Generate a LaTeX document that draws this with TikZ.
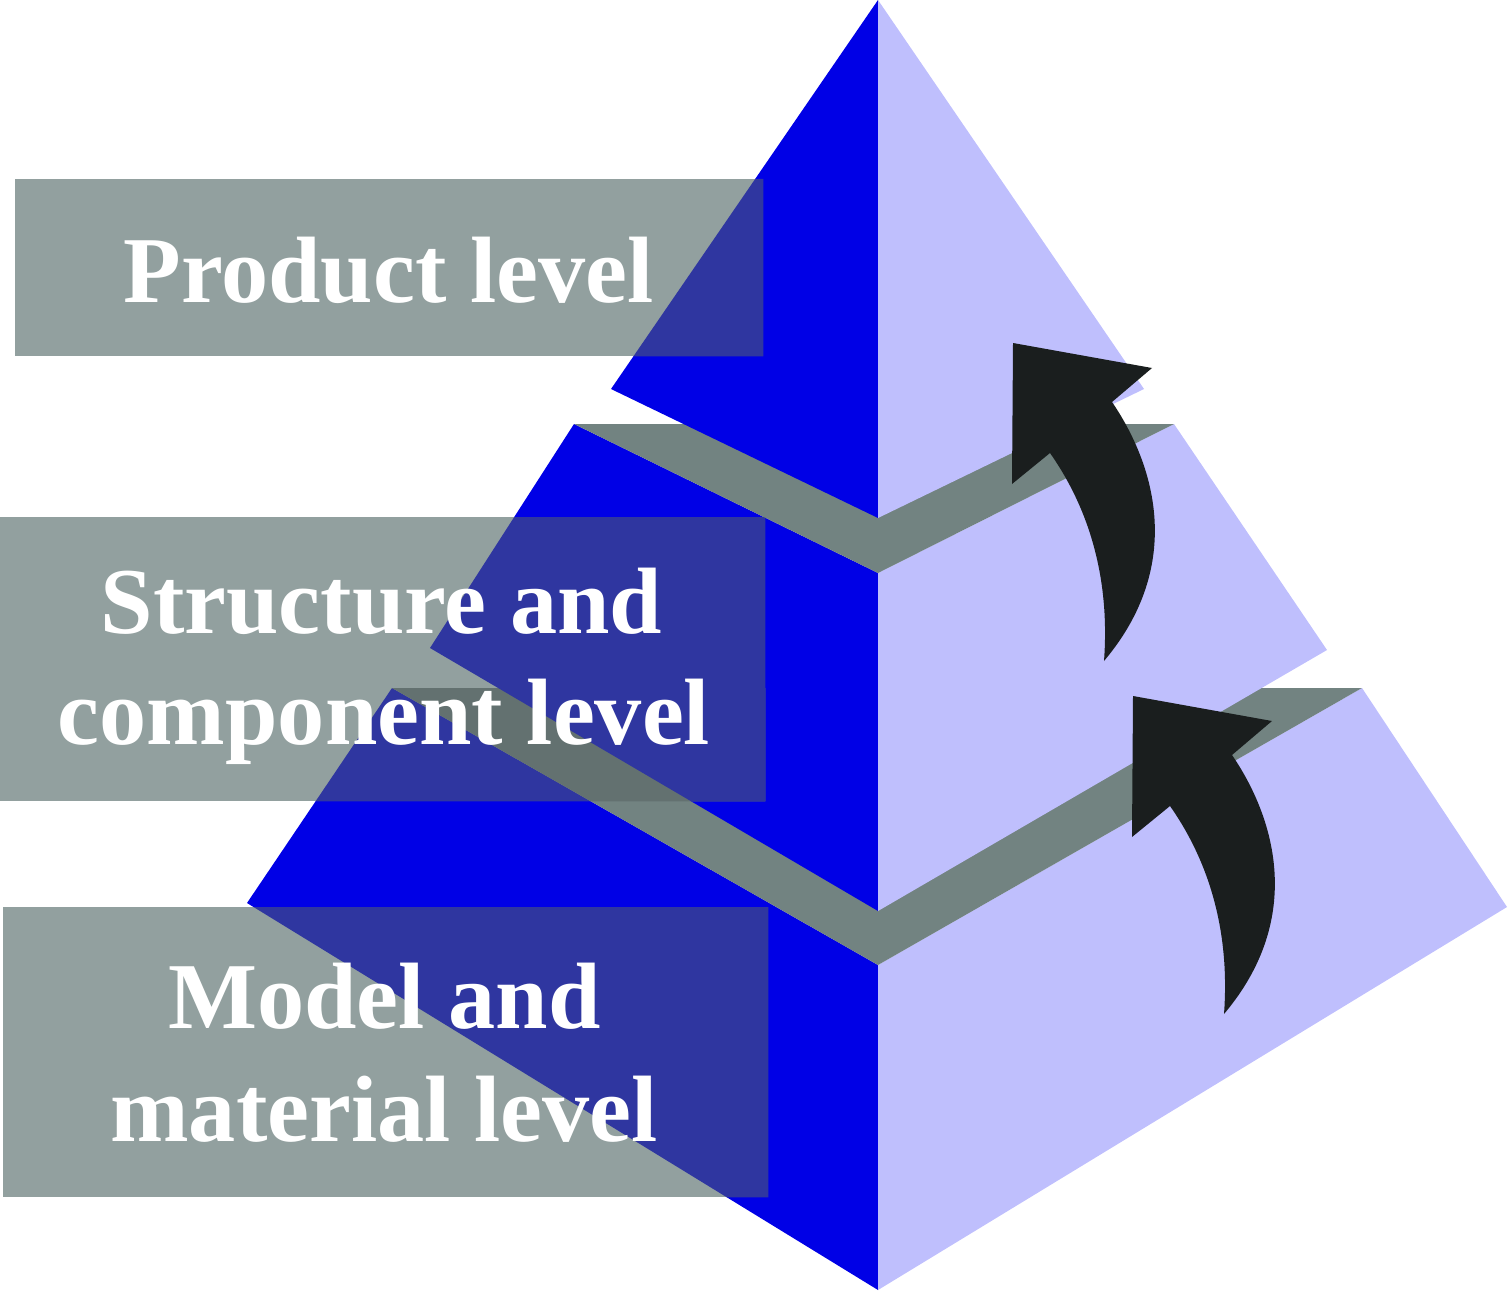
\documentclass[tikz,border=0pt]{standalone}
\usepackage{fontspec}
\setmainfont{Liberation Serif}
\definecolor{faceL}{HTML}{0000E6}
\definecolor{faceR}{HTML}{BFBFFD}
\definecolor{bandc}{HTML}{728381}
\definecolor{boxgray}{HTML}{92A09F}
\definecolor{boxblue}{HTML}{2F36A0}
\definecolor{boxband}{HTML}{637170}
\definecolor{arrowc}{HTML}{1A1E1E}
% #1 left face colour, #2 top-band colour, #3 right face colour
\newcommand{\pyrlayers}[3]{%
  % bottom layer
  \fill[#1] (392,688) -- (247,903) -- (878,1290) -- (878,965) -- cycle;
  \fill[#3] (878,965) -- (1362,688) -- (1507,907) -- (878,1290) -- cycle;
  \fill[#2] (392,688) -- (1362,688) -- (878,965) -- cycle;
  % middle layer
  \fill[#1] (574,424) -- (430,648) -- (878,911) -- (878,573) -- cycle;
  \fill[#3] (878,573) -- (1174,424) -- (1327,650) -- (878,911) -- cycle;
  \fill[#2] (574,424) -- (1174,424) -- (878,573) -- cycle;
  % top layer
  \fill[#1] (878,0) -- (611,389) -- (878,518) -- cycle;
  \fill[#3] (878,0) -- (1144,389) -- (878,518) -- cycle;
}
\tikzset{
  lbox/.style={fill=boxgray, inner sep=0pt, anchor=north west},
  ltext/.style={text=white, inner sep=0pt, anchor=base,
    font=\fontsize{94.3}{112}\selectfont\bfseries},
  uparrow/.style={fill=arrowc}
}
\begin{document}
\begin{tikzpicture}[x=1pt,y=-1pt]
\useasboundingbox (0,0) rectangle (1509,1292);
\pyrlayers{faceL}{bandc}{faceR}
% curved arrows
\fill[uparrow] (1013,343) -- (1152,368) -- (1112,402)
  .. controls (1155,465) and (1185,565) .. (1104,661)
  .. controls (1110,580) and (1090,510) .. (1050,453)
  -- (1012,484) -- cycle;
\begin{scope}[shift={(120,353)}]
\fill[uparrow] (1013,343) -- (1152,368) -- (1112,402)
  .. controls (1155,465) and (1185,565) .. (1104,661)
  .. controls (1110,580) and (1090,510) .. (1050,453)
  -- (1012,484) -- cycle;
\end{scope}
% label boxes
\node[lbox, minimum width=748pt, minimum height=177pt] (b1) at (15,179) {};
\node[lbox, minimum width=765pt, minimum height=284pt] (b2) at (0,517) {};
\node[lbox, minimum width=765pt, minimum height=290pt] (b3) at (3,907) {};
% translucent overlap of boxes over the pyramid
\begin{scope}
\clip (b1.north west) rectangle (b1.south east)
      (b2.north west) rectangle (b2.south east)
      (b3.north west) rectangle (b3.south east);
\pyrlayers{boxblue}{boxband}{boxgray}
\end{scope}
% texts
\node[ltext] (t1) at (388.5,302) {Product level};
\node[ltext] (t2a) at (381.5,633) {Structure and};
\node[ltext] (t2b) at (384,744.5) {component level};
\node[ltext] (t3a) at (384.5,1028.5) {Model and};
\node[ltext] (t3b) at (384,1141) {material level};
\end{tikzpicture}
\end{document}
